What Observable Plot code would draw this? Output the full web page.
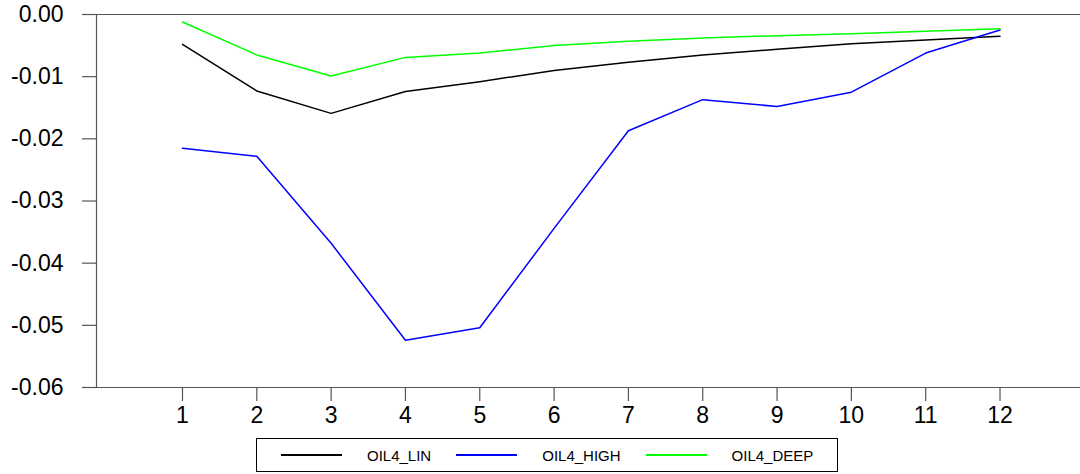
<!DOCTYPE html>
<html>
<head>
<meta charset="utf-8">
<script src="https://cdn.jsdelivr.net/npm/d3@7"></script>
<script src="https://cdn.jsdelivr.net/npm/@observablehq/plot@0.6"></script>
<style>
  html, body { margin: 0; padding: 0; background: #fff; }
  body { width: 1080px; height: 474px; overflow: hidden; font-family: "Liberation Sans", Arial, sans-serif; }
  #legend {
    position: absolute; left: 256px; top: 438px; width: 580px; height: 32px;
    border: 1px solid #000; box-sizing: content-box; display: flex; align-items: center;
    font-size: 15px; color: #000;
  }
  .sw { display: inline-block; width: 61px; height: 2px; margin-left: 25px; margin-right: 25px; }
  .sw.first { margin-left: 24px; }
</style>
</head>
<body>
<div id="chart"></div>
<div id="legend"></div>
<script>
// Data
const horizons = [1, 2, 3, 4, 5, 6, 7, 8, 9, 10, 11, 12];
const oil4Lin  = [-0.0048, -0.0123, -0.0159, -0.0124, -0.0108, -0.0090, -0.0077, -0.0065, -0.0056, -0.0047, -0.0041, -0.0035];
const oil4High = [-0.0215, -0.0228, -0.0368, -0.0524, -0.0504, -0.0344, -0.0187, -0.0137, -0.0148, -0.0125, -0.0062, -0.0025];
const oil4Deep = [-0.0012, -0.0065, -0.0099, -0.0069, -0.0062, -0.0050, -0.0043, -0.0038, -0.0034, -0.0031, -0.0027, -0.0023];
const seriesNames = ["OIL4_LIN", "OIL4_HIGH", "OIL4_DEEP"];
const seriesColors = ["#000000", "#0000ff", "#00ff00"];
const yTicks = [0, -0.01, -0.02, -0.03, -0.04, -0.05, -0.06];

const seriesValues = [oil4Lin, oil4High, oil4Deep];
const rows = [];
seriesNames.forEach((name, s) => {
  horizons.forEach((h, i) => rows.push({series: name, h, v: seriesValues[s][i]}));
});

const xDomain = [-0.157, 13.083];
const axisColor = "#555";

const chart = Plot.plot({
  width: 1080,
  height: 436,
  marginTop: 14,
  marginBottom: 49,
  marginLeft: 96,
  marginRight: 0,
  style: {fontFamily: "'Liberation Sans', Arial, sans-serif", background: "#fff", overflow: "visible"},
  x: {domain: xDomain, axis: null},
  y: {domain: [-0.06, 0], axis: null},
  color: {domain: seriesNames, range: seriesColors},
  marks: [
    Plot.ruleY([0, -0.06], {stroke: axisColor, strokeWidth: 1.2}),
    Plot.ruleX([xDomain[0]], {y1: -0.06, y2: 0, stroke: axisColor, strokeWidth: 1.2}),
    Plot.axisY(yTicks, {
      anchor: "left", tickSize: 14, tickPadding: 19, stroke: axisColor, strokeWidth: 1.2,
      tickFormat: d => d.toFixed(2), fontSize: 23, fill: "#000", label: null
    }),
    Plot.axisX(horizons, {
      anchor: "bottom", tickSize: 14, tickPadding: 5, stroke: axisColor, strokeWidth: 1.2,
      tickFormat: d => String(d), fontSize: 23, fill: "#000", label: null
    }),
    Plot.line(rows, {x: "h", y: "v", z: "series", stroke: "series", strokeWidth: 1.5})
  ]
});
document.getElementById("chart").appendChild(chart);

const legend = document.getElementById("legend");
seriesNames.forEach((name, i) => {
  const sw = document.createElement("span");
  sw.className = "sw" + (i === 0 ? " first" : "");
  sw.style.background = seriesColors[i];
  const t = document.createElement("span");
  t.textContent = name;
  legend.appendChild(sw);
  legend.appendChild(t);
});
</script>
</body>
</html>
